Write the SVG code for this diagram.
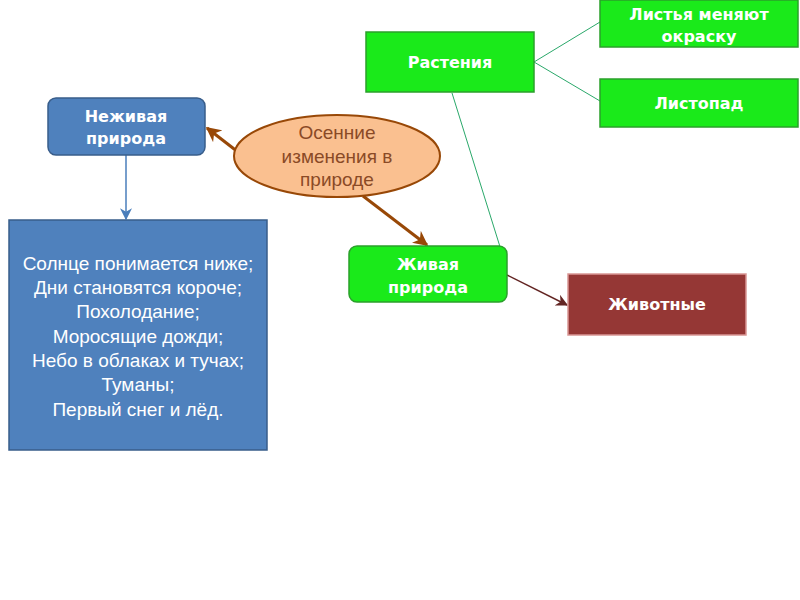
<svg xmlns="http://www.w3.org/2000/svg" width="800" height="600" viewBox="0 0 800 600">
<defs>
<style>
.g{fill:#1aea1a;stroke:#2ba02b;stroke-width:1.5}
.wt{fill:#fff;font-family:"DejaVu Sans",sans-serif;font-weight:bold;font-size:16px;text-anchor:middle}
.bt{fill:#fff;font-family:"Liberation Sans",Arial,sans-serif;font-size:19px;text-anchor:middle}
.et{fill:#8a4a26;font-family:"Liberation Sans",Arial,sans-serif;font-size:19px;text-anchor:middle}
.brown{stroke:#984807;stroke-width:3;fill:none}
.thin{stroke:#2aa86a;stroke-width:1;fill:none}
</style>
<marker id="ab" viewBox="0 0 10 10" refX="9" refY="5" markerWidth="5" markerHeight="5" orient="auto" markerUnits="strokeWidth"><path d="M0,0 L10,5 L0,10 L3,5 z" fill="#984807"/></marker>
<marker id="abl" viewBox="0 0 10 10" refX="9" refY="5" markerWidth="8" markerHeight="8" orient="auto" markerUnits="strokeWidth"><path d="M0,0 L10,5 L0,10 L3,5 z" fill="#4a7ebb"/></marker>
<marker id="ar" viewBox="0 0 10 10" refX="9" refY="5" markerWidth="8" markerHeight="8" orient="auto" markerUnits="strokeWidth"><path d="M0,0 L10,5 L0,10 L3,5 z" fill="#632523"/></marker>
</defs>
<rect width="800" height="600" fill="#fff"/>
<g id="connectors">
<line class="brown" x1="238" y1="152" x2="207" y2="128" marker-end="url(#ab)"/>
<line class="brown" x1="363" y1="196" x2="427" y2="245" marker-end="url(#ab)"/>
<line x1="126" y1="155" x2="126" y2="219" stroke="#4a7ebb" stroke-width="1.5" marker-end="url(#abl)"/>
<line x1="507" y1="275" x2="567" y2="305" stroke="#632523" stroke-width="1.5" marker-end="url(#ar)"/>
<line class="thin" x1="534" y1="62" x2="600" y2="22"/>
<line class="thin" x1="534" y1="62" x2="600" y2="101"/>
<line class="thin" x1="452" y1="93" x2="506" y2="266"/>
</g>
<g id="rastenia"><rect class="g" x="366" y="32" width="168" height="60"/><text class="wt" x="450" y="68">Растения</text></g>
<g id="listya"><rect class="g" x="600" y="0" width="198" height="47"/><text class="wt" x="699" y="20">Листья меняют</text><text class="wt" x="699" y="42">окраску</text></g>
<g id="listopad"><rect class="g" x="600" y="79" width="198" height="48"/><text class="wt" x="699" y="109">Листопад</text></g>
<g id="nezhivaya"><rect x="48" y="98" width="157" height="57" rx="8" fill="#4f81bd" stroke="#385d8a" stroke-width="1.5"/><text class="wt" x="126" y="122">Неживая</text><text class="wt" x="126" y="144">природа</text></g>
<g id="osennie"><ellipse cx="337" cy="156" rx="103" ry="41" fill="#fac090" stroke="#984807" stroke-width="2"/><text class="et" x="337" y="139">Осенние</text><text class="et" x="337" y="163">изменения в</text><text class="et" x="337" y="186">природе</text></g>
<g id="spisok"><rect x="9" y="220" width="258" height="230" fill="#4f81bd" stroke="#385d8a" stroke-width="1.5"/>
<text class="bt" x="138" y="270">Солнце понимается ниже;</text>
<text class="bt" x="138" y="294">Дни становятся короче;</text>
<text class="bt" x="138" y="318">Похолодание;</text>
<text class="bt" x="138" y="343">Моросящие дожди;</text>
<text class="bt" x="138" y="367">Небо в облаках и тучах;</text>
<text class="bt" x="138" y="391">Туманы;</text>
<text class="bt" x="138" y="416">Первый снег и лёд.</text></g>
<g id="zhivaya"><rect class="g" x="349" y="246" width="158" height="56" rx="8"/><text class="wt" x="428" y="270">Живая</text><text class="wt" x="428" y="293">природа</text></g>
<g id="zhivotnye"><rect x="568" y="274" width="178" height="61" fill="#953735" stroke="#d99694" stroke-width="1.5"/><text class="wt" x="657" y="310">Животные</text></g>
</svg>
